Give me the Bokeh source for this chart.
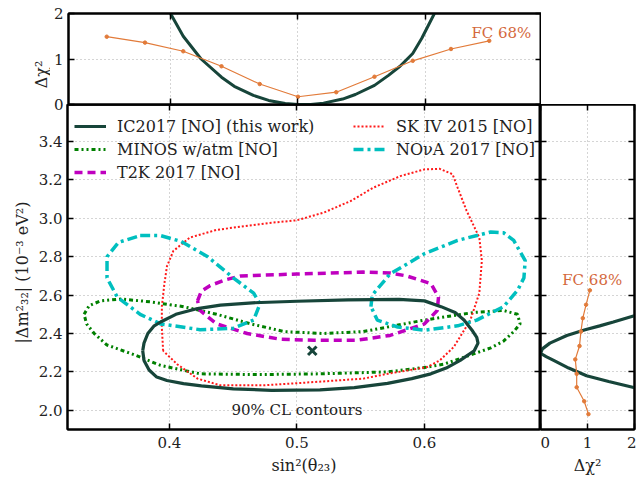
from math import pi

from bokeh.core.properties import value
from bokeh.embed import file_html
from bokeh.layouts import column, row
from bokeh.models import (CustomLabelingPolicy, FixedTicker, Legend, LegendItem, LinearAxis,
                          PrintfTickFormatter, Range1d)
from bokeh.plotting import figure
from bokeh.resources import INLINE

FONT = "DejaVu Serif, serif"

# 90% CL contours, (sin^2 theta23, dm2_32 [1e-3 eV^2])
ic_contour = [(0.379, 2.31), (0.380, 2.35), (0.383, 2.40), (0.388, 2.44), (0.393, 2.46),
              (0.405, 2.50), (0.422, 2.53), (0.440, 2.548), (0.465, 2.560), (0.500, 2.568),
              (0.540, 2.575), (0.580, 2.578), (0.600, 2.570), (0.613, 2.540), (0.624, 2.510),
              (0.631, 2.470), (0.637, 2.420), (0.641, 2.380), (0.642, 2.350), (0.639, 2.310),
              (0.628, 2.260), (0.617, 2.220), (0.605, 2.190), (0.590, 2.165), (0.571, 2.140),
              (0.545, 2.118), (0.518, 2.106), (0.480, 2.104), (0.450, 2.112), (0.425, 2.127),
              (0.411, 2.139), (0.398, 2.155), (0.390, 2.173), (0.384, 2.210), (0.380, 2.260)]
minos_contour = [(0.333, 2.50), (0.337, 2.545), (0.346, 2.57), (0.362, 2.58), (0.385, 2.565),
                 (0.411, 2.54), (0.437, 2.50), (0.464, 2.45), (0.490, 2.41), (0.520, 2.40),
                 (0.552, 2.41), (0.600, 2.47), (0.639, 2.51), (0.662, 2.52), (0.673, 2.50),
                 (0.675, 2.45), (0.670, 2.41), (0.662, 2.36), (0.652, 2.325), (0.639, 2.295),
                 (0.615, 2.24), (0.602, 2.225), (0.571, 2.20), (0.518, 2.19), (0.470, 2.186),
                 (0.424, 2.19), (0.393, 2.234), (0.372, 2.29), (0.351, 2.34), (0.341, 2.40),
                 (0.335, 2.45)]
t2k_contour = [(0.422, 2.57), (0.425, 2.62), (0.432, 2.65), (0.444, 2.68), (0.456, 2.70),
               (0.500, 2.71), (0.552, 2.72), (0.573, 2.715), (0.586, 2.70), (0.605, 2.66),
               (0.611, 2.59), (0.610, 2.52), (0.600, 2.45), (0.573, 2.39), (0.547, 2.365),
               (0.513, 2.365), (0.487, 2.37), (0.461, 2.40), (0.437, 2.45), (0.424, 2.52)]
sk_contour = [(0.395, 2.31), (0.394, 2.43), (0.394, 2.54), (0.396, 2.66), (0.398, 2.75),
              (0.403, 2.83), (0.416, 2.90), (0.437, 2.94), (0.477, 2.975), (0.500, 2.99),
              (0.521, 3.03), (0.542, 3.09), (0.560, 3.16), (0.581, 3.22), (0.600, 3.255),
              (0.612, 3.258), (0.622, 3.23), (0.626, 3.16), (0.633, 3.04), (0.643, 2.90),
              (0.645, 2.78), (0.643, 2.61), (0.636, 2.47), (0.623, 2.33), (0.612, 2.26),
              (0.602, 2.225), (0.571, 2.19), (0.552, 2.165), (0.513, 2.147), (0.474, 2.13),
              (0.440, 2.13), (0.422, 2.165), (0.406, 2.24)]
nova_left = [(0.377, 2.91), (0.393, 2.91), (0.409, 2.88), (0.430, 2.80), (0.450, 2.69),
             (0.466, 2.61), (0.471, 2.555), (0.466, 2.47), (0.450, 2.427), (0.424, 2.42),
             (0.393, 2.45), (0.377, 2.50), (0.359, 2.59), (0.351, 2.69), (0.351, 2.80),
             (0.360, 2.875)]
nova_right = [(0.558, 2.54), (0.559, 2.60), (0.573, 2.71), (0.600, 2.816), (0.626, 2.885),
              (0.652, 2.929), (0.662, 2.925), (0.670, 2.885), (0.679, 2.78), (0.678, 2.69),
              (0.673, 2.625), (0.662, 2.54), (0.641, 2.47), (0.626, 2.44), (0.600, 2.417),
              (0.579, 2.434), (0.563, 2.47)]
best_fit = (0.512, 2.31)

# 1D profiles
top_s2 = [0.397, 0.400, 0.41, 0.424, 0.44, 0.45, 0.465, 0.477, 0.49, 0.50, 0.51,
          0.52, 0.535, 0.545, 0.56, 0.571, 0.58, 0.59, 0.597, 0.607, 0.61]
top_chi2 = [2.12, 2.0, 1.5, 1.0, 0.6, 0.4, 0.2, 0.09, 0.02, 0.0, 0.0,
            0.03, 0.12, 0.22, 0.42, 0.64, 0.84, 1.12, 1.45, 2.0, 2.12]
fc_s2 = [0.35, 0.38, 0.41, 0.44, 0.47, 0.50, 0.53, 0.56, 0.59, 0.62, 0.65]
fc_s2_chi2 = [1.49, 1.36, 1.17, 0.84, 0.45, 0.17, 0.27, 0.61, 0.96, 1.22, 1.40]

right_dm2 = [2.10, 2.12, 2.15, 2.18, 2.22, 2.26, 2.28, 2.297, 2.32, 2.35, 2.39,
             2.42, 2.44, 2.46, 2.49, 2.51]
right_chi2 = [2.3, 1.96, 1.45, 0.98, 0.6, 0.28, 0.12, 0.0, 0.04, 0.2, 0.56,
              0.95, 1.26, 1.55, 1.96, 2.25]
fc_dm2 = [2.625, 2.55, 2.48, 2.41, 2.335, 2.265, 2.19, 2.12, 2.047, 1.98]
fc_dm2_chi2 = [1.05, 0.97, 0.90, 0.86, 0.83, 0.74, 0.77, 0.77, 0.93, 1.02]

s2_ticks = [0.4, 0.5, 0.6]
dm2_ticks = [2.0, 2.2, 2.4, 2.6, 2.8, 3.0, 3.2, 3.4]
chi2_ticks = [0, 1, 2]

IC_COLOR = "#17453a"
FC_COLOR = "#e27b3a"
FC_TEXT = "#d4683c"

NO_LABELS = "const ids = Array.from(indices); for (const i of ids) { indices.unset(i) } return indices"


def closed(points):
    xs = [a for a, b in points]
    ys = [b for a, b in points]
    return xs + xs[:1], ys + ys[:1]


def setup_axis(ax, ticks, labels=True, title=None, fmt=None):
    ax.ticker = FixedTicker(ticks=ticks)
    ax.major_tick_in = 6
    ax.major_tick_out = 0
    ax.minor_tick_line_color = None
    ax.axis_line_color = "black"
    ax.axis_line_width = 2
    ax.major_tick_line_color = "black"
    ax.major_tick_line_width = 1.5
    ax.major_label_text_font = FONT
    ax.major_label_text_color = "#222222"
    if fmt:
        ax.formatter = PrintfTickFormatter(format=fmt)
    if labels:
        ax.major_label_text_font_size = "15px"
        ax.major_label_standoff = 7
    else:
        ax.major_label_text_font_size = "0px"
        ax.major_label_standoff = 0
        ax.major_label_policy = CustomLabelingPolicy(code=NO_LABELS)
    if title:
        ax.axis_label = title
        ax.axis_label_text_font = FONT
        ax.axis_label_text_font_size = "16px"
        ax.axis_label_text_font_style = "normal"
        ax.axis_label_text_color = "#222222"
        ax.axis_label_standoff = 5


def title_strip(text, w, h, cx, cy):
    # narrow figure holding a rotated y-axis title, in pixel coordinates
    t = figure(title=None, x_range=Range1d(0, w), y_range=Range1d(0, h),
               frame_width=w, frame_height=h, min_border=0, output_backend="svg",
               toolbar_location=None, x_axis_type=None, y_axis_type=None)
    t.outline_line_color = None
    t.background_fill_alpha = 0
    t.border_fill_alpha = 0
    t.text(x=[cx], y=[cy], text=[text], angle=pi / 2, text_font=value(FONT),
           text_font_size="16px", text_color="#222222", text_align="center",
           text_baseline="middle")
    return t


def create_plot(xr, yr, fw, fh, xticks, yticks, borders):
    p = figure(title=None, x_range=Range1d(*xr), y_range=Range1d(*yr),
               frame_width=fw, frame_height=fh, output_backend="svg",
               toolbar_location=None, min_border_left=borders[0],
               min_border_right=borders[1], min_border_top=borders[2],
               min_border_bottom=borders[3])
    p.add_layout(LinearAxis(), "above")
    p.add_layout(LinearAxis(), "right")
    p.outline_line_color = "black"
    p.outline_line_width = 2
    p.xgrid.ticker = FixedTicker(ticks=xticks)
    p.ygrid.ticker = FixedTicker(ticks=yticks)
    for g in (p.xgrid, p.ygrid):
        g.grid_line_color = "#aaaaaa"
        g.grid_line_dash = "1 3"
        g.grid_line_width = 1
    return p


S2_RANGE = (0.32, 0.691)
DM2_RANGE = (1.9, 3.593)

# top panel (extra bottom border so the "0" label is not cut, overlapped below)
top = create_plot(S2_RANGE, (0, 2), 473, 91, s2_ticks, chi2_ticks, (17, 0, 13, 12))
setup_axis(top.below[0], s2_ticks, labels=False)
setup_axis(top.above[0], s2_ticks, labels=False)
setup_axis(top.left[0], chi2_ticks)
top.left[0].major_label_standoff = 5
setup_axis(top.right[0], chi2_ticks, labels=False)
top.line(top_s2, top_chi2, line_color=IC_COLOR, line_width=3)
top.line(fc_s2, fc_s2_chi2, line_color=FC_COLOR, line_width=1.2)
top.scatter(fc_s2, fc_s2_chi2, size=3.5, color=FC_COLOR)
top.text(x=[0.636], y=[1.58], text=["FC 68%"], text_font=value(FONT),
         text_font_size="15px", text_color=FC_TEXT, text_align="left",
         text_baseline="middle")
top_title = title_strip("Δχ²", 50, 116, 41, 55)

# main panel
p = create_plot(S2_RANGE, DM2_RANGE, 473, 325, s2_ticks, dm2_ticks, (35, 0, 0, 0))
p.background_fill_alpha = 0
p.border_fill_alpha = 0
setup_axis(p.below[0], s2_ticks, title="sin²(θ₂₃)", fmt="%.1f")
setup_axis(p.above[0], s2_ticks, labels=False)
setup_axis(p.left[0], dm2_ticks, fmt="%.1f")
p.left[0].major_label_standoff = 5
setup_axis(p.right[0], dm2_ticks, labels=False)
main_title = title_strip("|Δm²₃₂| (10⁻³ eV²)", 32, 325, 22, 157)

x, y = closed(minos_contour)
r_minos = p.line(x, y, line_color="#008000", line_width=3, line_dash="4 3 2 3 2 3")
x, y = closed(t2k_contour)
r_t2k = p.line(x, y, line_color="#bf00bf", line_width=3.5, line_dash="8 5")
x, y = closed(sk_contour)
r_sk = p.line(x, y, line_color="#ff1a1a", line_width=2, line_dash="2 2")
x, y = closed(nova_left)
r_nova = p.line(x, y, line_color="#00bfbf", line_width=3.5, line_dash="10 4 3 4")
x, y = closed(nova_right)
p.line(x, y, line_color="#00bfbf", line_width=3.5, line_dash="10 4 3 4")
x, y = closed(ic_contour)
r_ic = p.line(x, y, line_color=IC_COLOR, line_width=3.2)
p.scatter([best_fit[0]], [best_fit[1]], marker="x", size=12, line_width=3,
          line_color=IC_COLOR)
p.text(x=[0.5], y=[2.0], text=["90% CL contours"], text_font=value(FONT),
       text_font_size="15px", text_color="#222222", text_align="center",
       text_baseline="middle")

legend_items = [
    ([LegendItem(label="IC2017 [NO] (this work)", renderers=[r_ic]),
      LegendItem(label="MINOS w/atm [NO]", renderers=[r_minos]),
      LegendItem(label="T2K 2017 [NO]", renderers=[r_t2k])], (7, 247)),
    ([LegendItem(label="SK IV 2015 [NO]", renderers=[r_sk]),
      LegendItem(label="NOνA 2017 [NO]", renderers=[r_nova])], (286, 270)),
]
for items, loc in legend_items:
    leg = Legend(items=items, location=loc)
    leg.label_text_font = FONT
    leg.label_text_font_size = "16px"
    leg.label_text_color = "#222222"
    leg.glyph_width = 32
    leg.glyph_height = 20
    leg.label_height = 20
    leg.label_standoff = 11
    leg.spacing = 3
    leg.padding = 0
    leg.margin = 0
    leg.border_line_color = None
    leg.background_fill_alpha = 0
    p.add_layout(leg)

# right panel
right = create_plot((0, 2), DM2_RANGE, 94, 325, chi2_ticks, dm2_ticks, (0, 2, 0, 0))
right.background_fill_alpha = 0
right.border_fill_alpha = 0
setup_axis(right.below[0], chi2_ticks, title="Δχ²")
setup_axis(right.above[0], chi2_ticks, labels=False)
setup_axis(right.left[0], dm2_ticks, labels=False)
setup_axis(right.right[0], dm2_ticks, labels=False)
right.line(right_chi2, right_dm2, line_color=IC_COLOR, line_width=3.2)
right.line(fc_dm2_chi2, fc_dm2, line_color=FC_COLOR, line_width=1.2)
right.scatter(fc_dm2_chi2, fc_dm2, size=3.5, color=FC_COLOR)
right.text(x=[1.1], y=[2.677], text=["FC 68%"], text_font=value(FONT),
           text_font_size="15px", text_color=FC_TEXT, text_align="center",
           text_baseline="middle")

bottom = row(main_title, p, right)
bottom.margin = (-12, 0, 0, 0)
layout = column(row(top_title, top), bottom)
open("out.html", "w").write(file_html(layout, INLINE))
